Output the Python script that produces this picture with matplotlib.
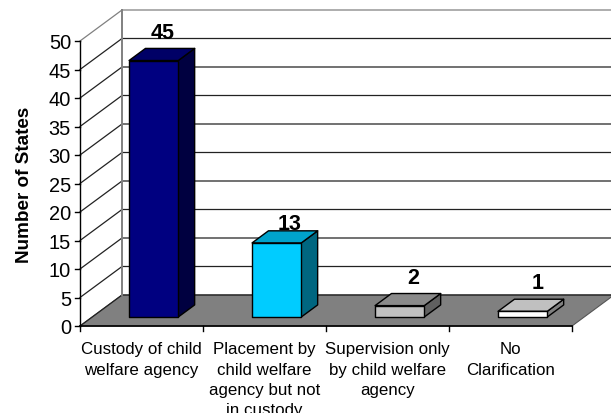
import matplotlib
matplotlib.use('Agg')
import matplotlib.pyplot as plt
from matplotlib.patches import Polygon

plt.rcParams['font.family'] = ['Liberation Sans', 'DejaVu Sans']

categories = ['Custody of child\nwelfare agency',
              'Placement by\nchild welfare\nagency but not\nin custody',
              'Supervision only\nby child welfare\nagency',
              'No\nClarification']
values = [45, 13, 2, 1]
y_ticks = [0, 5, 10, 15, 20, 25, 30, 35, 40, 45, 50]
y_label = 'Number of States'

front_colors = ['#000080', '#00CCFF', '#C0C0C0', '#FFFFFF']
side_colors = ['#000040', '#006680', '#606060', '#808080']
top_colors = ['#000066', '#00A3CC', '#8A8A8A', '#C0C0C0']
# where the value labels sit, relative to the bar top (x, y)
label_shift = [(0.675, 2.85), (0.707, 1.25), (0.707, 2.85), (0.724, 2.95)]

PX_X = 123.0   # pixels per category
PX_Y = 5.7     # pixels per value unit
DX = 42 / PX_X   # how far the back wall is shifted
DY = 31 / PX_Y
GAP = 0.30     # gap at each side of a bar
D0, D1 = 0.29, 0.68   # bar depth, front and back, as part of the floor


def proj(x, v, d):
	return (x + d * DX, v + d * DY)


def main():
	fig = plt.figure(figsize=(6.11, 4.14), dpi=100)
	ax = fig.add_axes([0, 0, 1, 1])
	ax.set_xlim(-80 / PX_X, (611 - 80) / PX_X)
	ax.set_ylim(-87 / PX_Y, 327 / PX_Y)
	ax.axis('off')

	n = len(categories)
	top = y_ticks[-1]

	# floor
	ax.add_patch(Polygon([proj(0, 0, 0), proj(n, 0, 0), proj(n, 0, 1), proj(0, 0, 1)],
		facecolor='#808080', edgecolor='#555555', lw=0.8, zorder=1))

	# gridlines on side wall and back wall
	for v in y_ticks:
		col = '#808080' if v == top else '#222222'
		xs = [0, DX, n + DX]
		ys = [v, v + DY, v + DY]
		ax.plot(xs, ys, color=col, lw=0.9, zorder=1.5)
	ax.plot([DX, DX], [DY, top + DY], color='#808080', lw=1.4, zorder=1.6)

	# front axis and ticks
	ax.plot([0, 0], [0, top], color='black', lw=1.0, zorder=2)
	ax.plot([0, n], [0, 0], color='black', lw=1.2, zorder=2)
	for v in y_ticks:
		ax.plot([-5 / PX_X, 0], [v, v], color='black', lw=1.0, zorder=2)
		ax.text(-9 / PX_X, v, str(v), ha='right', va='center_baseline', fontsize=14.4)
	for i in range(n + 1):
		ax.plot([i, i], [0, -5 / PX_Y], color='black', lw=1.0, zorder=2)

	for i, name in enumerate(categories):
		ax.text(i + 0.5, -15.5 / PX_Y, name, ha='center', va='top', fontsize=12.2, linespacing=1.42)

	ax.text(-55 / PX_X, 25 - 0.1, y_label, rotation=90, ha='center', va='center',
		fontsize=13.6, fontweight='bold')

	# value labels go under the bars, the 13 is cut by its bar in the original
	for i, v in enumerate(values):
		sx, sy = label_shift[i]
		ax.text(sx + i, v + D1 * DY + sy, str(v), ha='center', va='center',
			fontsize=15.5, fontweight='bold', zorder=2.5)

	# bars
	for i, v in enumerate(values):
		x0, x1 = i + GAP, i + 1 - GAP
		front = [proj(x0, 0, D0), proj(x1, 0, D0), proj(x1, v, D0), proj(x0, v, D0)]
		side = [proj(x1, 0, D0), proj(x1, 0, D1), proj(x1, v, D1), proj(x1, v, D0)]
		lid = [proj(x0, v, D0), proj(x1, v, D0), proj(x1, v, D1), proj(x0, v, D1)]
		for pts, col in ((side, side_colors[i]), (lid, top_colors[i]), (front, front_colors[i])):
			ax.add_patch(Polygon(pts, facecolor=col, edgecolor='black', lw=1.0,
				joinstyle='round', zorder=3))

	fig.savefig('out.png', dpi=100)


if __name__ == '__main__':
	main()
